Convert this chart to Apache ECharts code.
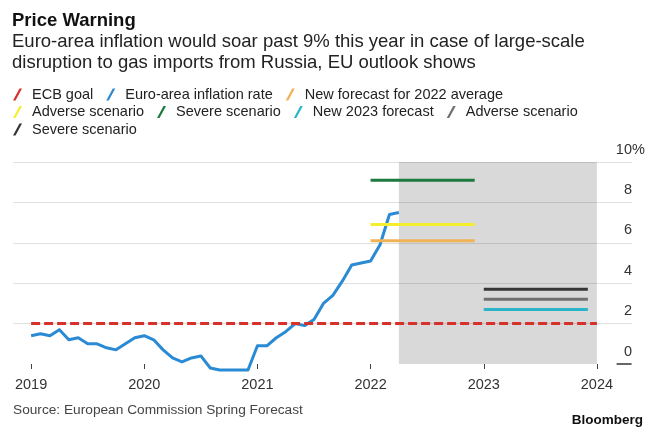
<!DOCTYPE html>
<html>
<head>
<meta charset="utf-8">
<script src="https://cdn.jsdelivr.net/npm/echarts@6/dist/echarts.min.js"></script>
<style>
  html, body { margin: 0; padding: 0; background: #fff; }
  #chart { width: 645px; height: 433px; }
</style>
</head>
<body>
<div id="chart"></div>
<script>
// year ticks on the x axis
const years = [2019, 2020, 2021, 2022, 2023, 2024];

// euro-area HICP, monthly from Jan 2019 to Apr 2022
const inflation = [
  1.4, 1.5, 1.4, 1.7, 1.2, 1.3, 1.0, 1.0, 0.8, 0.7, 1.0, 1.3,
  1.4, 1.2, 0.7, 0.3, 0.1, 0.3, 0.4, -0.2, -0.3, -0.3, -0.3, -0.3,
  0.9, 0.9, 1.3, 1.6, 2.0, 1.9, 2.2, 3.0, 3.4, 4.1, 4.9, 5.0,
  5.1, 5.9, 7.4, 7.5
];
const ecbGoal = 2;
const ecbSpan = [2019, 2024];

// forecast bars: [new forecast, adverse, severe]
const span2022 = [2022, 2022.92];
const span2023 = [2023, 2023.92];
const fc2022 = [6.1, 6.9, 9.1];
const fc2023 = [2.7, 3.2, 3.7];
const forecastStart = 2022.25;

const legendNames = [
  "ECB goal", "Euro-area inflation rate", "New forecast for 2022 average",
  "Adverse scenario", "Severe scenario", "New 2023 forecast",
  "Adverse scenario (2023)", "Severe scenario (2023)"
];
const colors = ["#d7312b", "#2a8ad3", "#f0b255", "#f4ee2e", "#1d7a3f", "#2ab4c8", "#6f6f6f", "#353535"];

const FONT = "'Liberation Sans', Arial, sans-serif";

const chart = echarts.init(document.getElementById("chart"), null, { renderer: "canvas" });

function flat(name, color, span, v) {
  return {
    name, type: "line", symbol: "none", silent: true,
    data: [[span[0], v], [span[1], v]],
    lineStyle: { color, width: 3, cap: "butt" },
    itemStyle: { color }
  };
}

chart.setOption({
  animation: false,
  title: [
    {
      text: "Price Warning", left: 12, top: 11, padding: 0,
      textStyle: { fontFamily: FONT, fontSize: 18.5, fontWeight: "bold", color: "#111", lineHeight: 20 }
    },
    {
      text: "Euro-area inflation would soar past 9% this year in case of large-scale\ndisruption to gas imports from Russia, EU outlook shows",
      left: 12, top: 32, padding: 0,
      textStyle: { fontFamily: FONT, fontSize: 18.5, fontWeight: "normal", color: "#222", lineHeight: 20.5 }
    },
    {
      text: "Source: European Commission Spring Forecast", left: 13, top: 402, padding: 0,
      textStyle: { fontFamily: FONT, fontSize: 13.7, fontWeight: "normal", color: "#444", lineHeight: 16 }
    },
    {
      text: "Bloomberg", right: 2, top: 412, padding: 0,
      textStyle: { fontFamily: FONT, fontSize: 13.5, fontWeight: "bold", color: "#111", lineHeight: 16 }
    }
  ],
  legend: {
    data: legendNames,
    left: 13, top: 87, width: 620, padding: 0,
    icon: "path://M0,12L6.5,0L9,0L2.5,12Z",
    itemWidth: 9, itemHeight: 12, itemGap: 2.5,
    selectedMode: false,
    formatter: (n) => n.replace(" (2023)", ""),
    textStyle: { fontFamily: FONT, fontSize: 14.5, color: "#222", lineHeight: 15, padding: [0, 10.5, 0, 5] }
  },
  grid: { left: 13, right: 13, top: 162, bottom: 69, outerBoundsMode: "none", containLabel: false },
  xAxis: {
    type: "value", min: 2018.84, max: 2024.31,
    splitLine: { show: false },
    axisLine: { show: false },
    axisTick: { show: true, customValues: years, length: 5, lineStyle: { color: "#444", width: 1 } },
    axisLabel: {
      customValues: years, margin: 13, fontFamily: FONT, fontSize: 14.5, color: "#333",
      formatter: (v) => String(v)
    }
  },
  yAxis: {
    type: "value", position: "right", min: 0, max: 10, interval: 2,
    axisLine: { show: false }, axisTick: { show: false },
    splitLine: { show: true, showMinLine: false, lineStyle: { color: "#e1e1e1", width: 1 } },
    axisLabel: {
      inside: true, margin: -13, verticalAlign: "bottom", padding: [0, 0, 5, 0],
      fontFamily: FONT, fontSize: 14.5, color: "#333", lineHeight: 15,
      // the % sign hangs to the right of the number column
      formatter: (v) => "{n|" + v + "}{p|" + (v === 10 ? "%" : " ") + "}",
      rich: {
        n: { fontFamily: FONT, fontSize: 14.5, color: "#333", lineHeight: 15 },
        p: { fontFamily: FONT, fontSize: 14.5, color: "#333", lineHeight: 15, width: 13, align: "left" }
      }
    }
  },
  series: [
    {
      name: legendNames[0], type: "line", symbol: "none", silent: true,
      data: [[ecbSpan[0], ecbGoal], [ecbSpan[1], ecbGoal]],
      lineStyle: { color: colors[0], width: 3, type: [9, 4], cap: "butt" },
      itemStyle: { color: colors[0] },
      z: 4,
      markArea: {
        silent: true,
        itemStyle: { color: "rgba(0,0,0,0.15)" },
        data: [[{ xAxis: forecastStart }, { xAxis: ecbSpan[1] }]]
      },
      markLine: {
        silent: true, symbol: "none", label: { show: false },
        lineStyle: { color: "#333", width: 1.5, type: "solid" },
        data: [[{ coord: [2024.174, 0] }, { coord: [2024.306, 0] }]]
      }
    },
    {
      name: legendNames[1], type: "line", symbol: "none", silent: true, clip: false,
      data: inflation.map((v, i) => [2019 + i / 12, v]),
      lineStyle: { color: colors[1], width: 3, join: "round" },
      itemStyle: { color: colors[1] }
    },
    flat(legendNames[2], colors[2], span2022, fc2022[0]),
    flat(legendNames[3], colors[3], span2022, fc2022[1]),
    flat(legendNames[4], colors[4], span2022, fc2022[2]),
    flat(legendNames[5], colors[5], span2023, fc2023[0]),
    flat(legendNames[6], colors[6], span2023, fc2023[1]),
    flat(legendNames[7], colors[7], span2023, fc2023[2])
  ]
});
</script>
</body>
</html>
